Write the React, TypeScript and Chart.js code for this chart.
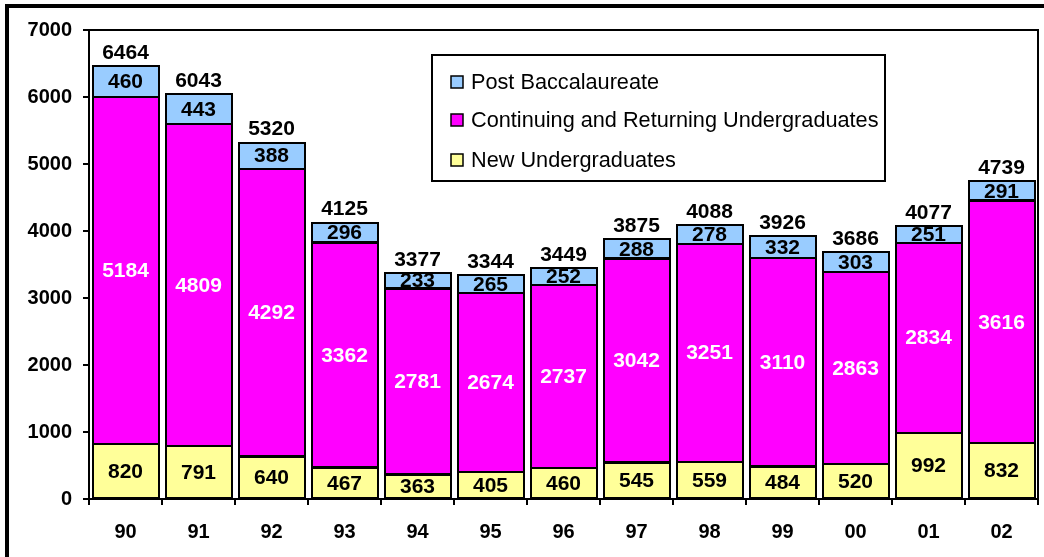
import React, { useEffect, useRef } from "react";
import { Chart, registerables } from "chart.js";

Chart.register(...registerables);

const categories = ["90", "91", "92", "93", "94", "95", "96", "97", "98", "99", "00", "01", "02"];
const newUndergrads = [820, 791, 640, 467, 363, 405, 460, 545, 559, 484, 520, 992, 832];
const continuingUndergrads = [5184, 4809, 4292, 3362, 2781, 2674, 2737, 3042, 3251, 3110, 2863, 2834, 3616];
const postBacc = [460, 443, 388, 296, 233, 265, 252, 288, 278, 332, 303, 251, 291];
const totals = [6464, 6043, 5320, 4125, 3377, 3344, 3449, 3875, 4088, 3926, 3686, 4077, 4739];
const seriesNames = ["New Undergraduates", "Continuing and Returning Undergraduates", "Post Baccalaureate"];
const seriesColors = ["#FFFF99", "#FF00FF", "#99CCFF"];
const labelColors = ["#000000", "#FFFFFF", "#000000"];

const FONT = "'Liberation Sans', Arial, sans-serif";

const labelsPlugin = {
  id: "customLabels",
  afterDatasetsDraw(chart: any) {
    const ctx = chart.ctx;
    const area = chart.chartArea;
    ctx.save();
    // bar outlines
    ctx.strokeStyle = "#000";
    ctx.lineWidth = 2;
    chart.data.datasets.forEach((_ds: any, di: number) => {
      const meta = chart.getDatasetMeta(di);
      meta.data.forEach((el: any) => {
        const half = el.width / 2;
        const top = Math.min(el.y, el.base);
        const h = Math.abs(el.base - el.y);
        ctx.strokeRect(Math.round(el.x - half), Math.round(top), Math.round(el.width), Math.round(h));
      });
    });
    // plot frame
    ctx.strokeRect(area.left, area.top, area.right - area.left, area.bottom - area.top);

    ctx.font = `bold 21px ${FONT}`;
    ctx.textAlign = "center";
    ctx.textBaseline = "middle";
    chart.data.datasets.forEach((ds: any, di: number) => {
      const meta = chart.getDatasetMeta(di);
      meta.data.forEach((el: any, i: number) => {
        const cy = (el.y + el.base) / 2;
        ctx.fillStyle = labelColors[di];
        ctx.fillText(String(ds.data[i]), el.x, cy + 1);
      });
    });
    const topMeta = chart.getDatasetMeta(chart.data.datasets.length - 1);
    topMeta.data.forEach((el: any, i: number) => {
      ctx.fillStyle = "#000";
      ctx.fillText(String(totals[i]), el.x, el.y - 13);
    });

    // legend
    const lx = 432, ly = 55, lw = 453, lh = 126;
    ctx.fillStyle = "#fff";
    ctx.fillRect(lx, ly, lw, lh);
    ctx.lineWidth = 2;
    ctx.strokeStyle = "#000";
    ctx.strokeRect(lx, ly, lw, lh);
    const order = [2, 1, 0];
    const rowsY = [82, 120, 160];
    ctx.font = `21.7px ${FONT}`;
    ctx.textAlign = "left";
    order.forEach((si, r) => {
      const y = rowsY[r];
      ctx.fillStyle = seriesColors[si];
      ctx.fillRect(451, y - 6, 12, 12);
      ctx.lineWidth = 1.5;
      ctx.strokeStyle = "#000";
      ctx.strokeRect(451, y - 6, 12, 12);
      ctx.fillStyle = "#000";
      ctx.fillText(seriesNames[si], 471, y + 1);
    });
    ctx.restore();
  },
};

export default function App() {
  const canvasRef = useRef<HTMLCanvasElement | null>(null);

  useEffect(() => {
    const canvas = canvasRef.current;
    if (!canvas) return;
    const chart = new Chart(canvas, {
      type: "bar",
      data: {
        labels: categories,
        datasets: [newUndergrads, continuingUndergrads, postBacc].map((d, i) => ({
          label: seriesNames[i],
          data: d,
          backgroundColor: seriesColors[i],
          borderWidth: 0,
          barPercentage: 0.9,
          categoryPercentage: 1,
        })),
      },
      options: {
        responsive: false,
        animation: false,
        devicePixelRatio: 1,
        layout: { padding: { left: 0, top: 30, right: 6, bottom: 0 } },
        plugins: { legend: { display: false }, tooltip: { enabled: false } },
        scales: {
          x: {
            stacked: true,
            afterFit: (s: any) => { s.height = 58; },
            grid: { offset: true, drawOnChartArea: false, drawTicks: true, tickLength: 6, color: "#000", lineWidth: 2 },
            border: { display: true, color: "#000", width: 2 },
            ticks: { color: "#000", font: { family: FONT, size: 20, weight: "bold" }, padding: 15 },
          },
          y: {
            stacked: true,
            min: 0,
            max: 7000,
            afterFit: (s: any) => { s.width = 89; },
            grid: { drawOnChartArea: false, drawTicks: true, tickLength: 6, color: "#000", lineWidth: 2 },
            border: { display: true, color: "#000", width: 2 },
            ticks: {
              stepSize: 1000,
              color: "#000",
              font: { family: FONT, size: 20, weight: "bold" },
              padding: 11,
              callback: (v: any) => String(v),
            },
          },
        },
      },
      plugins: [labelsPlugin],
    } as any);
    return () => chart.destroy();
  }, []);

  return (
    <div style={{ position: "fixed", left: 0, top: 0, width: 1044, height: 557, background: "#fff", overflow: "hidden" }}>
      <div style={{ position: "absolute", left: 5, top: 4, width: 1200, height: 700, border: "4px solid #000" }} />
      <canvas ref={canvasRef} width={1044} height={557} style={{ position: "absolute", left: 0, top: 0 }} />
    </div>
  );
}
